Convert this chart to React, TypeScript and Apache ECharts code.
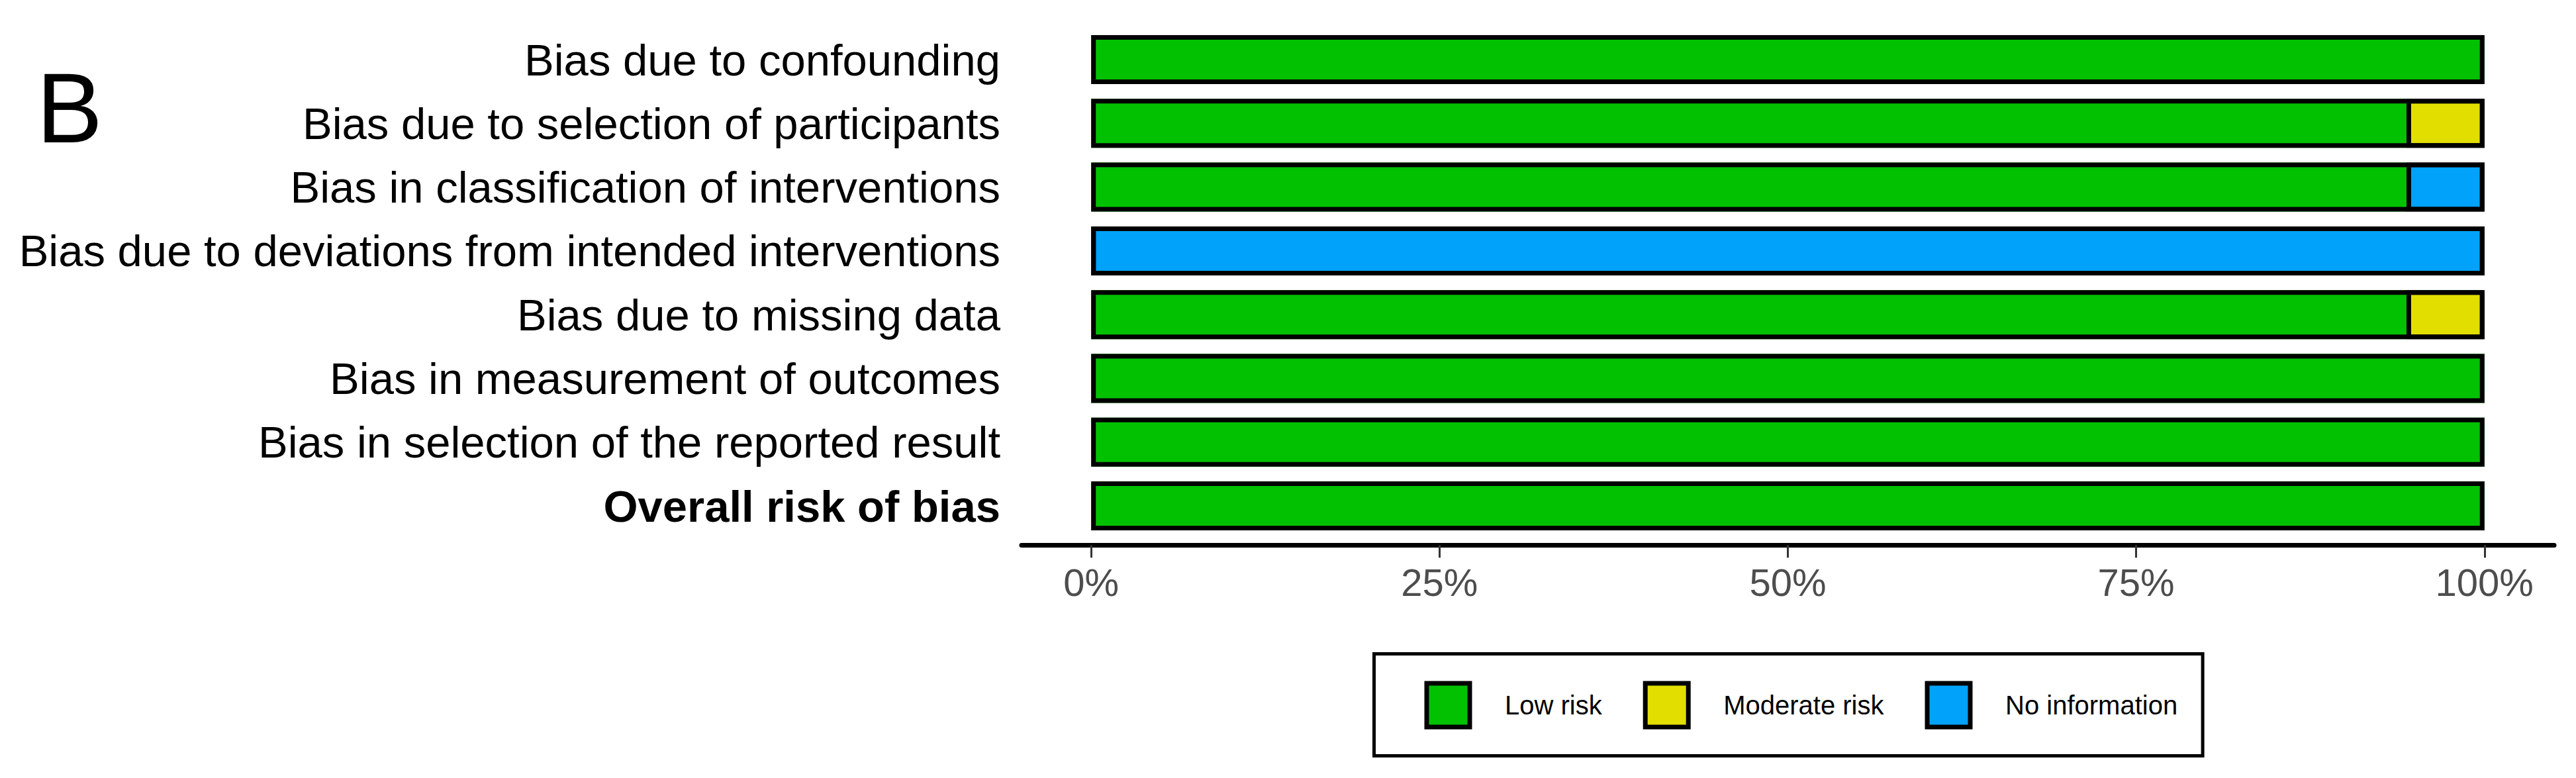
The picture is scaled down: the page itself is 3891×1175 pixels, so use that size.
import React, { useEffect, useRef } from 'react';
import * as echarts from 'echarts';

const domains = [
  'Bias due to confounding',
  'Bias due to selection of participants',
  'Bias in classification of interventions',
  'Bias due to deviations from intended interventions',
  'Bias due to missing data',
  'Bias in measurement of outcomes',
  'Bias in selection of the reported result',
  'Overall risk of bias',
];
const lowRisk = [100, 94.4, 94.4, null, 94.4, 100, 100, 100];
const moderateRisk = [null, 5.6, null, null, 5.6, null, null, null];
const noInformation = [null, null, 5.6, 100, null, null, null, null];
const tickValues = [0, 25, 50, 75, 100];
const seriesNames = ['Low risk', 'Moderate risk', 'No information'];
const seriesColors = ['#02C100', '#E2DF00', '#01A2F9'];
const panelLabel = 'B';

const FONT = '"Liberation Sans", Arial, Helvetica, sans-serif';

export default function App() {
  const ref = useRef<HTMLDivElement>(null);
  useEffect(() => {
    if (!ref.current) return;
    const chart = echarts.init(ref.current, undefined, { renderer: 'svg' });
    const values = [lowRisk, moderateRisk, noInformation];
    const totals = domains.map((_, i) =>
      values.reduce((s, arr) => s + (arr[i] ?? 0), 0)
    );
    const BAR_W = '76.8%';
    const fillSeries = seriesNames.map((name, i) => ({
      name,
      type: 'bar',
      stack: 'total',
      barWidth: BAR_W,
      barGap: '-100%',
      data: values[i],
      itemStyle:
        i === 0
          ? { color: seriesColors[i], borderWidth: 0 }
          : { color: seriesColors[i], borderColor: '#000', borderWidth: 7 },
      emphasis: { disabled: true },
      z: 2,
    }));
    const outlineSeries = {
      name: 'outline',
      type: 'bar',
      barWidth: BAR_W,
      barGap: '-100%',
      data: totals,
      itemStyle: { color: 'rgba(0,0,0,0)', borderColor: '#000', borderWidth: 7 },
      emphasis: { disabled: true },
      silent: true,
      z: 3,
    };
    chart.setOption({
      animation: false,
      backgroundColor: '#ffffff',
      textStyle: { fontFamily: FONT },
      grid: {
        left: 1543,
        right: 33,
        top: 41.85,
        bottom: 362.75,
        containLabel: false,
        outerBoundsMode: 'none',
      },
      xAxis: {
        type: 'value',
        min: -5,
        max: 105,
        position: 'bottom',
        offset: 11,
        splitLine: { show: false },
        axisLine: { show: true, lineStyle: { color: '#000', width: 7 } },
        axisTick: {
          show: true,
          customValues: tickValues,
          length: 19,
          lineStyle: { color: '#333333', width: 3 },
        },
        axisLabel: {
          customValues: tickValues,
          formatter: (v: number) => `${v}%`,
          fontSize: 58,
          lineHeight: 58,
          color: '#4D4D4D',
          margin: 27,
          fontFamily: FONT,
        },
      },
      yAxis: {
        type: 'category',
        inverse: true,
        data: domains.map((d, i) =>
          i === domains.length - 1
            ? { value: d, textStyle: { fontWeight: 'bold' } }
            : d
        ),
        axisLine: { show: false },
        axisTick: { show: false },
        splitLine: { show: false },
        axisLabel: {
          fontSize: 67,
          color: '#000',
          margin: 32,
          fontFamily: FONT,
        },
      },
      legend: {
        data: seriesNames,
        orient: 'horizontal',
        left: 2075.5,
        top: 987.5,
        icon: 'rect',
        itemWidth: 65,
        itemHeight: 66,
        itemGap: 62,
        padding: [41, 38, 40, 76],
        borderColor: '#000',
        borderWidth: 5,
        selectedMode: false,
        itemStyle: { borderColor: '#000', borderWidth: 7 },
        textStyle: { fontSize: 40, color: '#000', padding: [0, 0, 0, 48], fontFamily: FONT },
      },
      graphic: [
        {
          type: 'text',
          x: 55,
          y: 163,
          style: {
            text: panelLabel,
            fontSize: 150,
            fontFamily: FONT,
            fill: '#000',
            verticalAlign: 'middle',
            align: 'left',
          },
        },
      ],
      series: [...fillSeries, outlineSeries],
    });
    return () => chart.dispose();
  }, []);
  return (
    <div
      ref={ref}
      style={{ position: 'fixed', left: 0, top: 0, width: 3891, height: 1175 }}
    />
  );
}
